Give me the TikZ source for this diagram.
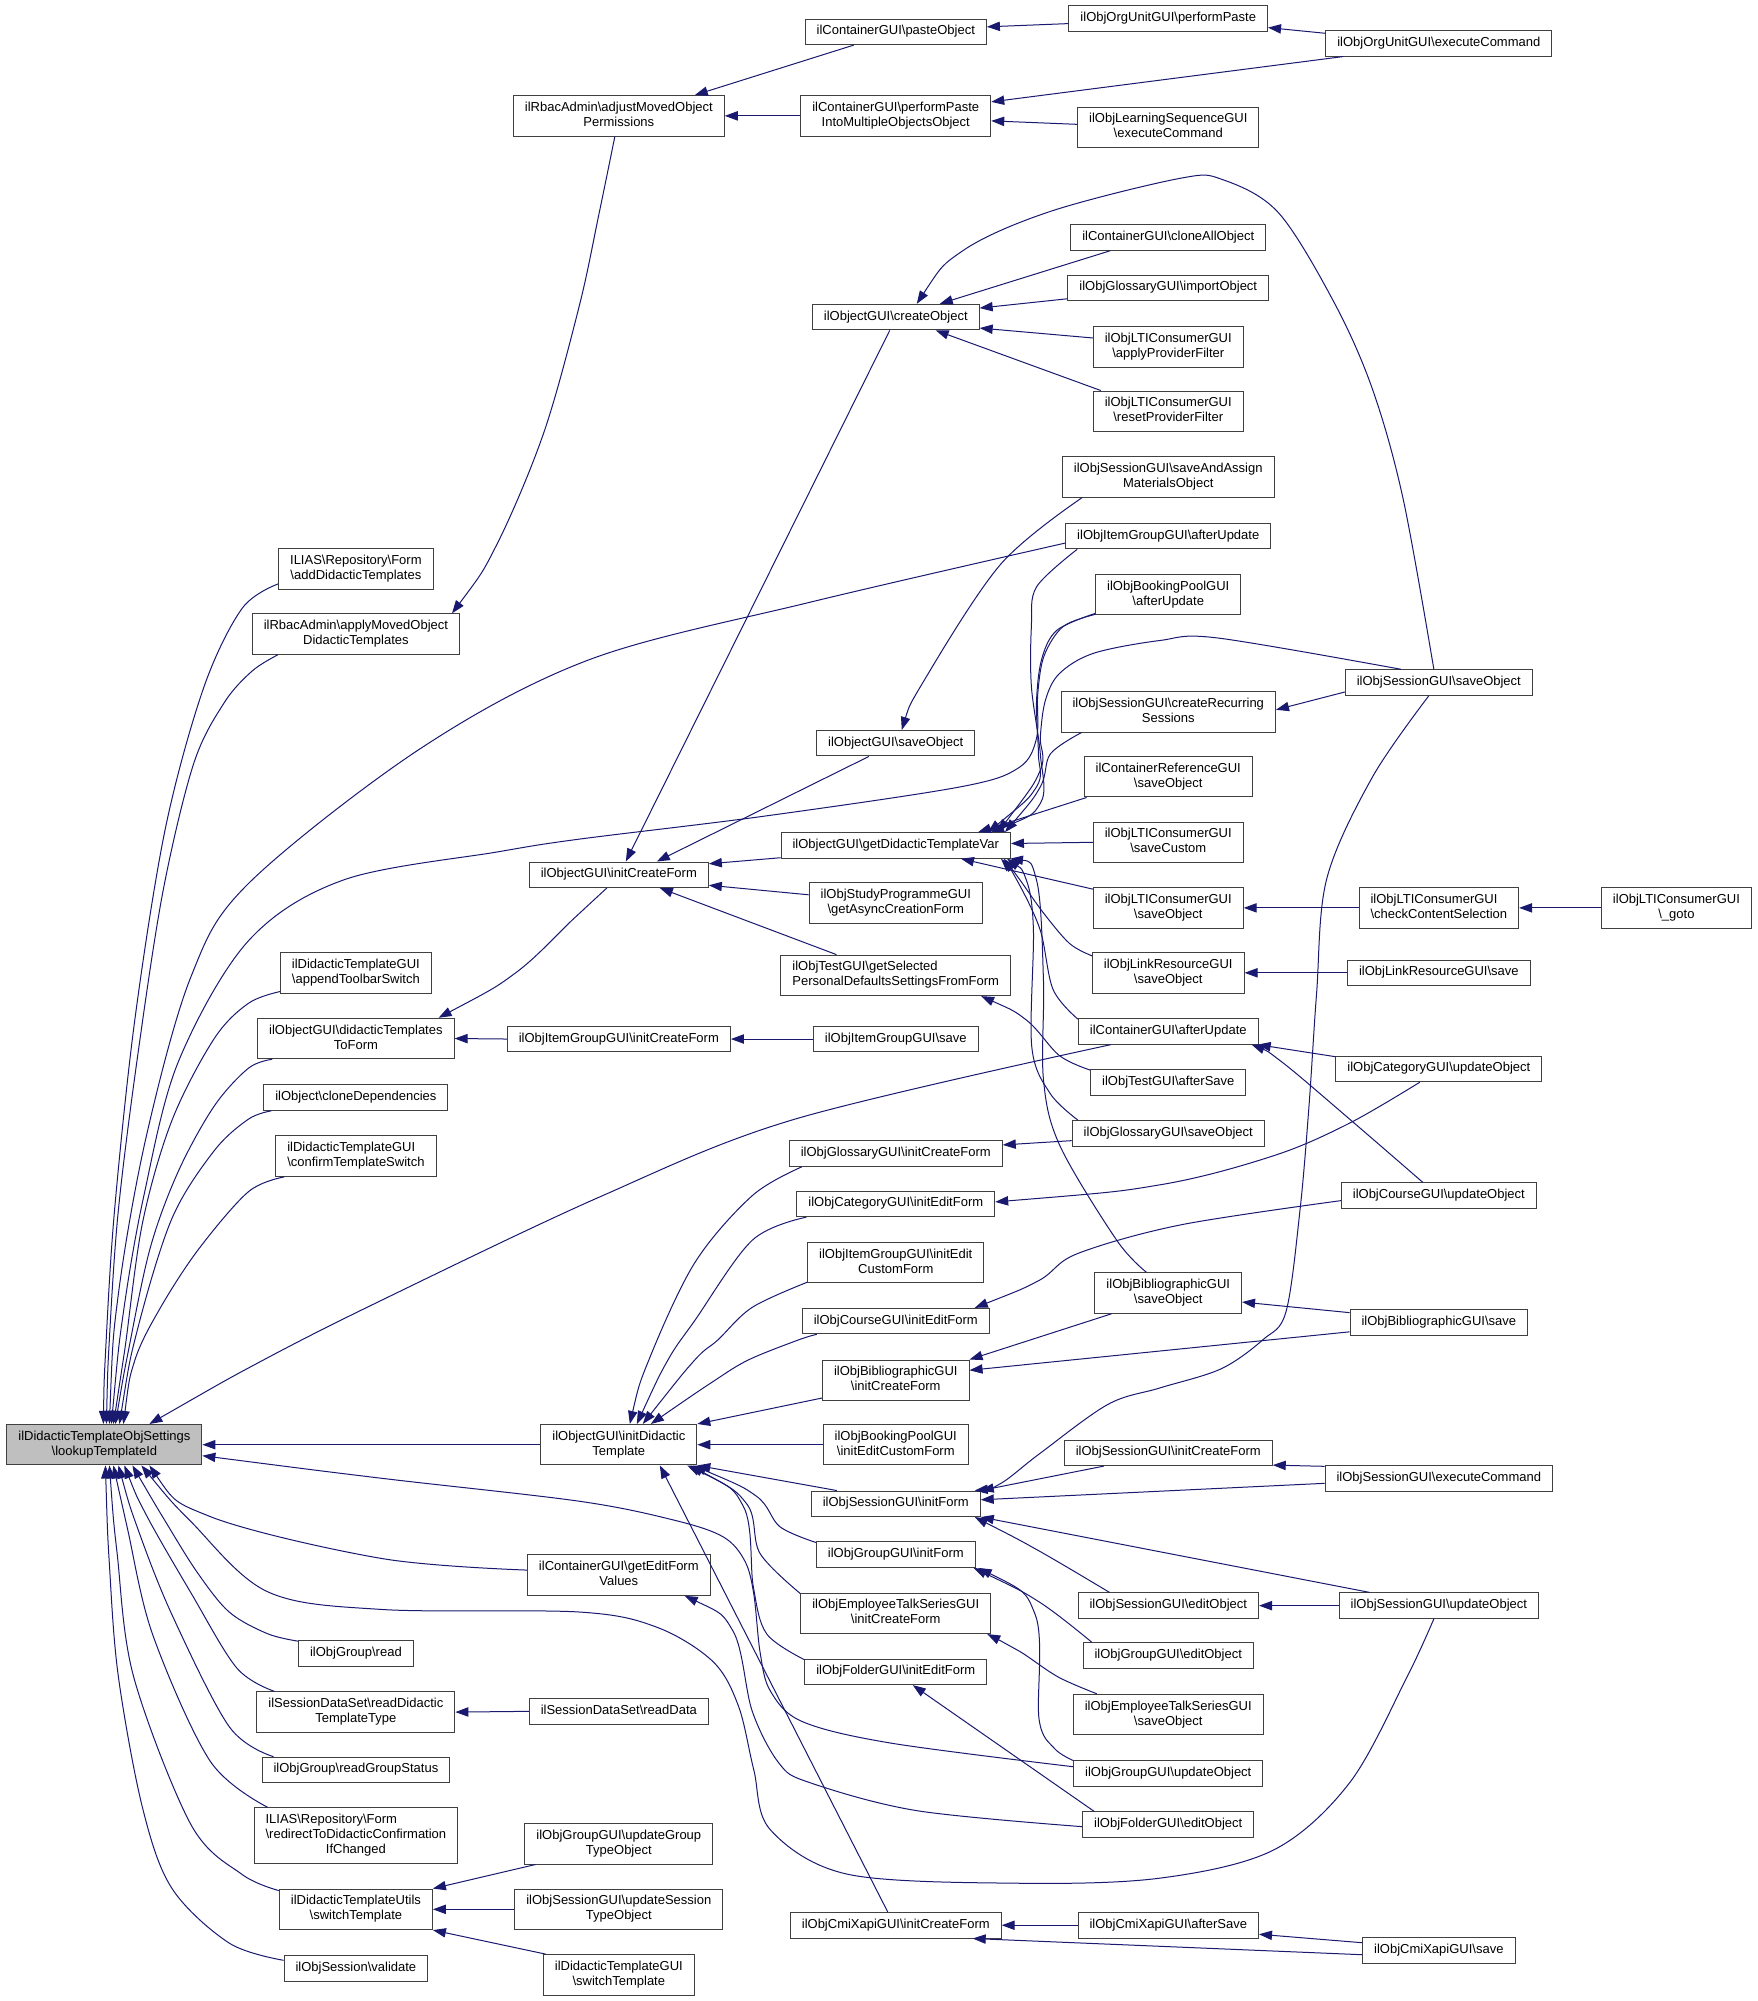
\documentclass[tikz,border=0pt]{standalone}
\usepackage{fontspec}
\setmainfont{Liberation Sans}
\usetikzlibrary{arrows.meta}
\definecolor{edgec}{RGB}{25,25,112}
\definecolor{nodeborder}{RGB}{64,64,64}
\definecolor{grayfill}{RGB}{191,191,191}
\newcommand{\BSL}{\textbackslash}
\newcommand{\Lone}[1]{\begin{tabular}{@{}c@{}}#1\end{tabular}}
\newcommand{\Ltwo}[2]{\begin{tabular}{@{}l@{}}#1\\\multicolumn{1}{@{}c@{}}{#2}\end{tabular}}
\newcommand{\Lthree}[3]{\begin{tabular}{@{}l@{}}#1\\#2\\\multicolumn{1}{@{}c@{}}{#3}\end{tabular}}
\begin{document}
\begin{tikzpicture}[x=1.2733pt,y=-1.2733pt,
  box/.style={draw=nodeborder, line width=1pt, fill=white, inner xsep=11.5pt, inner ysep=5.25pt, font=\fontsize{13}{15}\selectfont},
  e/.style={draw=edgec, line width=1pt, {Triangle[length=13pt,width=9.3pt]}-}]
\fill[white] (0,0) rectangle (1380,1571.5);
\useasboundingbox (0,0) rectangle (1380,1571.5);

% ---------- nodes ----------
\node[box, fill=grayfill] (L) at (82,1134.6) {\Ltwo{ilDidacticTemplateObjSettings}{\BSL lookupTemplateId}};

\node[box] (add) at (279.5,447) {\Ltwo{ILIAS\BSL Repository\BSL Form}{\BSL addDidacticTemplates}};
\node[box] (apply) at (279.5,498) {\Ltwo{ilRbacAdmin\BSL applyMovedObject}{DidacticTemplates}};
\node[box] (toolbar) at (279.5,764) {\Ltwo{ilDidacticTemplateGUI}{\BSL appendToolbarSwitch}};
\node[box] (dtf) at (279.5,815.6) {\Ltwo{ilObjectGUI\BSL didacticTemplates}{ToForm}};
\node[box] (clone) at (279.5,862) {\Lone{ilObject\BSL cloneDependencies}};
\node[box] (confirm) at (279.5,908) {\Ltwo{ilDidacticTemplateGUI}{\BSL confirmTemplateSwitch}};
\node[box] (gread) at (279.5,1298.5) {\Lone{ilObjGroup\BSL read}};
\node[box] (rdtt) at (279.5,1344.6) {\Ltwo{ilSessionDataSet\BSL readDidactic}{TemplateType}};
\node[box] (rgs) at (279.5,1390) {\Lone{ilObjGroup\BSL readGroupStatus}};
\node[box] (redir) at (279.5,1441.5) {\Lthree{ILIAS\BSL Repository\BSL Form}{\BSL redirectToDidacticConfirmation}{IfChanged}};
\node[box] (utsw) at (279.5,1499.5) {\Ltwo{ilDidacticTemplateUtils}{\BSL switchTemplate}};
\node[box] (valid) at (279.5,1546) {\Lone{ilObjSession\BSL validate}};

\node[box] (adjust) at (486,91) {\Ltwo{ilRbacAdmin\BSL adjustMovedObject}{Permissions}};
\node[box] (icf) at (486,687) {\Lone{ilObjectGUI\BSL initCreateForm}};
\node[box] (igicf) at (486,816) {\Lone{ilObjItemGroupGUI\BSL initCreateForm}};
\node[box] (id) at (486,1134.6) {\Ltwo{ilObjectGUI\BSL initDidactic}{Template}};
\node[box] (gefv) at (486,1237) {\Ltwo{ilContainerGUI\BSL getEditForm}{Values}};
\node[box] (rdata) at (486,1344) {\Lone{ilSessionDataSet\BSL readData}};
\node[box] (gtype) at (486,1448) {\Ltwo{ilObjGroupGUI\BSL updateGroup}{TypeObject}};
\node[box] (stype) at (486,1499.5) {\Ltwo{ilObjSessionGUI\BSL updateSession}{TypeObject}};
\node[box] (dtsw) at (486,1551) {\Ltwo{ilDidacticTemplateGUI}{\BSL switchTemplate}};

\node[box] (pobj) at (703.5,25) {\Lone{ilContainerGUI\BSL pasteObject}};
\node[box] (pmulti) at (703.5,91) {\Ltwo{ilContainerGUI\BSL performPaste}{IntoMultipleObjectsObject}};
\node[box] (create) at (703.5,249) {\Lone{ilObjectGUI\BSL createObject}};
\node[box] (osave) at (703.5,583.7) {\Lone{ilObjectGUI\BSL saveObject}};
\node[box] (gv) at (703.5,664) {\Lone{ilObjectGUI\BSL getDidacticTemplateVar}};
\node[box] (async) at (703.5,709) {\Ltwo{ilObjStudyProgrammeGUI}{\BSL getAsyncCreationForm}};
\node[box] (getsel) at (703.5,766) {\Ltwo{ilObjTestGUI\BSL getSelected}{PersonalDefaultsSettingsFromForm}};
\node[box] (igsave) at (703.5,816) {\Lone{ilObjItemGroupGUI\BSL save}};
\node[box] (gicf) at (703.5,906) {\Lone{ilObjGlossaryGUI\BSL initCreateForm}};
\node[box] (cief) at (703.5,945.5) {\Lone{ilObjCategoryGUI\BSL initEditForm}};
\node[box] (igiec) at (703.5,991.5) {\Ltwo{ilObjItemGroupGUI\BSL initEdit}{CustomForm}};
\node[box] (coief) at (703.5,1037.5) {\Lone{ilObjCourseGUI\BSL initEditForm}};
\node[box] (bicf) at (703.5,1084) {\Ltwo{ilObjBibliographicGUI}{\BSL initCreateForm}};
\node[box] (bpiec) at (703.5,1134.6) {\Ltwo{ilObjBookingPoolGUI}{\BSL initEditCustomForm}};
\node[box] (sif) at (703.5,1181) {\Lone{ilObjSessionGUI\BSL initForm}};
\node[box] (gif) at (703.5,1221) {\Lone{ilObjGroupGUI\BSL initForm}};
\node[box] (etcf) at (703.5,1267) {\Ltwo{ilObjEmployeeTalkSeriesGUI}{\BSL initCreateForm}};
\node[box] (fief) at (703.5,1313) {\Lone{ilObjFolderGUI\BSL initEditForm}};
\node[box] (cxicf) at (703.5,1512) {\Lone{ilObjCmiXapiGUI\BSL initCreateForm}};

\node[box] (opaste) at (917.5,14.6) {\Lone{ilObjOrgUnitGUI\BSL performPaste}};
\node[box] (lsexec) at (917.5,100) {\Ltwo{ilObjLearningSequenceGUI}{\BSL executeCommand}};
\node[box] (cloneall) at (917.5,186.5) {\Lone{ilContainerGUI\BSL cloneAllObject}};
\node[box] (import) at (917.5,226) {\Lone{ilObjGlossaryGUI\BSL importObject}};
\node[box] (applypf) at (917.5,272.5) {\Ltwo{ilObjLTIConsumerGUI}{\BSL applyProviderFilter}};
\node[box] (resetpf) at (917.5,323) {\Ltwo{ilObjLTIConsumerGUI}{\BSL resetProviderFilter}};
\node[box] (saa) at (917.5,374.6) {\Ltwo{ilObjSessionGUI\BSL saveAndAssign}{MaterialsObject}};
\node[box] (igau) at (917.5,421) {\Lone{ilObjItemGroupGUI\BSL afterUpdate}};
\node[box] (bpau) at (917.5,467) {\Ltwo{ilObjBookingPoolGUI}{\BSL afterUpdate}};
\node[box] (crs) at (917.5,559) {\Ltwo{ilObjSessionGUI\BSL createRecurring}{Sessions}};
\node[box] (cref) at (917.5,610) {\Ltwo{ilContainerReferenceGUI}{\BSL saveObject}};
\node[box] (ltic) at (917.5,661.5) {\Ltwo{ilObjLTIConsumerGUI}{\BSL saveCustom}};
\node[box] (ltis) at (917.5,713) {\Ltwo{ilObjLTIConsumerGUI}{\BSL saveObject}};
\node[box] (lrs) at (917.5,764) {\Ltwo{ilObjLinkResourceGUI}{\BSL saveObject}};
\node[box] (cau) at (917.5,810) {\Lone{ilContainerGUI\BSL afterUpdate}};
\node[box] (tas) at (917.5,850) {\Lone{ilObjTestGUI\BSL afterSave}};
\node[box] (gsave) at (917.5,890) {\Lone{ilObjGlossaryGUI\BSL saveObject}};
\node[box] (bso) at (917.5,1015.5) {\Ltwo{ilObjBibliographicGUI}{\BSL saveObject}};
\node[box] (sicf) at (917.5,1141) {\Lone{ilObjSessionGUI\BSL initCreateForm}};
\node[box] (sedit) at (917.5,1261) {\Lone{ilObjSessionGUI\BSL editObject}};
\node[box] (gedit) at (917.5,1300) {\Lone{ilObjGroupGUI\BSL editObject}};
\node[box] (etso) at (917.5,1346.5) {\Ltwo{ilObjEmployeeTalkSeriesGUI}{\BSL saveObject}};
\node[box] (gupd) at (917.5,1393) {\Lone{ilObjGroupGUI\BSL updateObject}};
\node[box] (fedit) at (917.5,1433) {\Lone{ilObjFolderGUI\BSL editObject}};
\node[box] (cxas) at (917.5,1512) {\Lone{ilObjCmiXapiGUI\BSL afterSave}};

\node[box] (oexec) at (1130,34) {\Lone{ilObjOrgUnitGUI\BSL executeCommand}};
\node[box] (ssave) at (1130,536) {\Lone{ilObjSessionGUI\BSL saveObject}};
\node[box] (check) at (1130,713) {\Ltwo{ilObjLTIConsumerGUI}{\BSL checkContentSelection}};
\node[box] (lrsave) at (1130,764) {\Lone{ilObjLinkResourceGUI\BSL save}};
\node[box] (catup) at (1130,839.5) {\Lone{ilObjCategoryGUI\BSL updateObject}};
\node[box] (crsup) at (1130,939) {\Lone{ilObjCourseGUI\BSL updateObject}};
\node[box] (bsave) at (1130,1038.5) {\Lone{ilObjBibliographicGUI\BSL save}};
\node[box] (sexec) at (1130,1161) {\Lone{ilObjSessionGUI\BSL executeCommand}};
\node[box] (supd) at (1130,1261) {\Lone{ilObjSessionGUI\BSL updateObject}};
\node[box] (cxsave) at (1130,1532) {\Lone{ilObjCmiXapiGUI\BSL save}};

\node[box] (goto) at (1316.6,713) {\Ltwo{ilObjLTIConsumerGUI}{\BSL\_goto}};

% ---------- edges into lookupTemplateId ----------
\draw[e] plot[smooth,tension=.55] coordinates {([xshift=-1pt]L.north) (83,1060) (90,950) (106,800) (130,650) (160,540) (190,478) ([yshift=6pt]add.south west)};
\draw[e] plot[smooth,tension=.55] coordinates {([xshift=2pt]L.north) (86,1050) (93,950) (108,830) (128,700) (152,600) (176,552) (198,527) ([xshift=26pt]apply.south west)};
\draw[e] plot[smooth,tension=.55] coordinates {([xshift=5pt]L.north) (93,1016) (115,892) (150,767) (195,694) (330,588) (463,518) (636,473) ([yshift=-7pt]igau.west)};
\draw[e] plot[smooth,tension=.55] coordinates {([xshift=7pt]L.north) (97,1030) (113,939) (140,834) (195,739) (270,691) (391,669) (455,659) (600,641) (754,618) (800,603) (814,580) (815,545) (820,515) (835,492) ([yshift=1pt]bpau.south west)};
\draw[e] plot[smooth,tension=.55] coordinates {([xshift=9pt]L.north) (98,1060) (112,960) (135,880) (168,816) (195,788) ([yshift=2pt]toolbar.south west)};
\draw[e] plot[smooth,tension=.55] coordinates {([xshift=11pt]L.north) (101,1060) (118,980) (140,920) (168,869) (195,839) ([xshift=15pt]dtf.south west)};
\draw[e] plot[smooth,tension=.55] coordinates {([xshift=15pt]L.north) (108,1044) (135,957) (168,904) (195,879) ([xshift=8pt]clone.south west)};
\draw[e] plot[smooth,tension=.55] coordinates {([xshift=19pt]L.north) (106,1068) (126,1027) (156,981) (195,936) ([xshift=9pt]confirm.south west)};
\draw[e] plot[smooth,tension=.55] coordinates {([xshift=45pt]L.north) (207,1068) (300,1021) (471,940) (624,879) ([xshift=33pt]cau.south west)};
\draw[e] (L.east) -- (id.west);
\draw[e] plot[smooth,tension=.55] coordinates {([yshift=-11pt]L.east) (300,1161) (455,1179) (530,1194) (568,1207) (585,1226) (592,1252) (597,1298) (605,1328) (630,1352) (700,1369) ([yshift=7pt]gupd.west)};
\draw[e] plot[smooth,tension=.55] coordinates {([xshift=45pt]L.south) (165,1191) (300,1224) ([yshift=5pt]gefv.west)};
\draw[e] plot[smooth,tension=.55] coordinates {([xshift=37pt]L.south) (150,1195) (210,1250) (300,1264) (455,1266) (516,1278) (560,1305) (580,1340) (592,1390) (605,1437) (666,1472) (800,1479) (911,1475) (1000,1453) (1060,1400) (1105,1317) ([xshift=-5pt]supd.south)};
\draw[e] plot[smooth,tension=.55] coordinates {([xshift=28pt]L.south) (130,1195) (155,1235) (180,1266) (210,1283) ([yshift=-1pt]gread.north west)};
\draw[e] plot[smooth,tension=.55] coordinates {([xshift=20pt]L.south) (115,1190) (150,1251) (186,1310) ([xshift=18pt]rdtt.north west)};
\draw[e] plot[smooth,tension=.55] coordinates {([xshift=14pt]L.south) (108,1200) (135,1268) (180,1356) ([xshift=12pt]rgs.north west)};
\draw[e] plot[smooth,tension=.55] coordinates {([xshift=9pt]L.south) (100,1200) (120,1284) (165,1383) ([xshift=14pt]redir.north west)};
\draw[e] plot[smooth,tension=.55] coordinates {([xshift=5pt]L.south) (92,1220) (105,1317) (150,1433) (190,1472) ([yshift=-2pt]utsw.north west)};
\draw[e] plot[smooth,tension=.55] coordinates {([xshift=1pt]L.south) (86,1230) (93,1317) (112,1420) (135,1483) (180,1526) ([yshift=-5pt]valid.north west)};

% ---------- top group ----------
\draw[e] plot[smooth,tension=.55] coordinates {([xshift=-8pt]apply.north east) (390,428) (427,340) (455,240) (470,170) ([xshift=-4pt]adjust.south)};
\draw[e] ([xshift=-30pt]adjust.north east) -- ([xshift=-42pt]pobj.south);
\draw[e] (adjust.east) -- (pmulti.west);
\draw[e] ([yshift=5pt]pobj.east) -- ([yshift=-5pt]opaste.west);
\draw[e] ([yshift=-9pt]opaste.east) -- ([yshift=10pt]oexec.west);
\draw[e] ([yshift=14pt]pmulti.east) -- ([xshift=18pt]oexec.south west);
\draw[e] ([yshift=-5pt]pmulti.east) -- ([yshift=3pt]lsexec.west);
\draw[e] plot[smooth,tension=.55] coordinates {([xshift=21pt]create.north) (756,197) (825,166) (927,140) (960,141) (1004,167) (1048,238) (1078,306) (1102,392) ([xshift=-5pt]ssave.north)};
\draw[e] ([xshift=44pt]create.north) -- ([xshift=40pt]cloneall.south west);
\draw[e] ([yshift=9pt]create.east) -- ([yshift=-11pt]import.west);
\draw[e] ([yshift=-11pt]create.east) -- ([yshift=9pt]applypf.west);
\draw[e] ([xshift=-44pt]create.south east) -- ([xshift=8pt]resetpf.north west);
\draw[e] ([xshift=7pt]icf.north) -- ([xshift=-6pt]create.south);
\draw[e] ([xshift=38pt]icf.north) -- ([xshift=-27pt]osave.south);
\draw[e] plot[smooth,tension=.55] coordinates {([xshift=6pt]osave.north) (726,534) (786,443) ([xshift=20pt]saa.south west)};
\draw[e] plot[smooth,tension=.55] coordinates {([xshift=-16pt]dtf.north east) (405,764) (450,722) ([xshift=-12pt]icf.south)};
\draw[e] (dtf.east) -- (igicf.west);
\draw[e] (igicf.east) -- (igsave.west);
\draw[e] ([yshift=11pt]icf.east) -- ([yshift=1pt]gv.south west);
\draw[e] ([yshift=-10.5pt]icf.east) -- ([yshift=8pt]async.west);
\draw[e] ([xshift=41pt]icf.south) -- ([xshift=56pt]getsel.north west);
\draw[e] plot[smooth,tension=.55] coordinates {([xshift=-30pt]getsel.south east) (806,801) (832,829) ([yshift=-1pt]tas.north west)};

% ---------- getDidacticTemplateVar ----------
\draw[e] ([yshift=2pt]gv.east) -- (ltic.west);
\draw[e] ([xshift=-50pt]gv.south east) -- ([yshift=-2pt]ltis.north west);
\draw[e] ([xshift=-33pt]gv.north east) -- ([xshift=3pt]cref.south west);
\draw[e] plot[smooth,tension=.55] coordinates {([xshift=-6pt]gv.north east) (817,618) (825,592) ([xshift=21pt]crs.south west)};
\draw[e] plot[smooth,tension=.55] coordinates {([xshift=-13pt]gv.north east) (817,605) (817,579) (821,550) (832,529) (859,513) (911,503) (956,501) ([xshift=56pt]ssave.north west)};
\draw[e] plot[smooth,tension=.55] coordinates {([xshift=-20pt]gv.north east) (817,631) (817,592) (810,539) (810,492) (814,461) ([xshift=12pt]igau.south west)};
\draw[e] plot[smooth,tension=.55] coordinates {([xshift=-23pt]gv.north east) (814,618) (815.5,592) (814,552) (818,518) (830,495) ([yshift=2pt]bpau.south west)};
\draw[e] plot[smooth,tension=.55] coordinates {([xshift=-7pt]gv.south east) (801,691) (819.5,717) (840,741) ([yshift=17pt]lrs.west)};
\draw[e] plot[smooth,tension=.55] coordinates {([xshift=-10pt]gv.south east) (798.5,691) (816.8,730) (827,777) ([yshift=-1pt]cau.north west)};
\draw[e] plot[smooth,tension=.55] coordinates {([xshift=-4pt]gv.south east) (806,691) (811.6,730) (810.3,822) (824.7,858.7) ([xshift=6pt]gsave.north west)};
\draw[e] plot[smooth,tension=.55] coordinates {([xshift=-1pt]gv.south east) (814,691) (819.5,770) (819.5,848) (832.5,900) (877,974) ([xshift=52pt]bso.north west)};
\draw[e] (ltis.east) -- (check.west);
\draw[e] (check.east) -- (goto.west);
\draw[e] (lrs.east) -- (lrsave.west);
\draw[e] ([yshift=2pt]crs.east) -- ([yshift=-9.5pt]ssave.west);
\draw[e] ([xshift=-1pt]cau.south east) -- ([yshift=-1pt]catup.north west);
\draw[e] plot[smooth,tension=.55] coordinates {([xshift=-7pt]cau.south east) (1006.7,834) (1060.5,879.4) ([xshift=-16pt]crsup.north)};
\draw[e] plot[smooth,tension=.55] coordinates {([yshift=2pt]cief.east) (911,930.5) (1000.7,907.5) (1060,882) ([xshift=-19pt]catup.south)};
\draw[e] plot[smooth,tension=.55] coordinates {([xshift=-15pt]coief.north east) (816,1005.6) (846,984.6) (927,962) ([yshift=-5pt]crsup.west)};
\draw[e] ([yshift=8.7pt]gicf.east) -- ([yshift=-7.4pt]gsave.west);
\draw[e] ([yshift=-9pt]bso.east) -- ([yshift=9.7pt]bsave.west);
\draw[e] (bicf.north east) -- ([xshift=17pt]bso.south west);
\draw[e] ([yshift=10pt]bicf.east) -- ([yshift=-9.5pt]bsave.west);

% ---------- initDidacticTemplate ----------
\draw[e] plot[smooth,tension=.55] coordinates {([xshift=11pt]id.north) (509.6,1068) (545.7,991.6) (590.8,939) ([xshift=13pt]gicf.south west)};
\draw[e] plot[smooth,tension=.55] coordinates {([xshift=18pt]id.north) (524.6,1068) (545.7,1037) (590.8,974) ([xshift=10pt]cief.south west)};
\draw[e] plot[smooth,tension=.55] coordinates {([xshift=24pt]id.north) (545.7,1068) (563.7,1052.4) (590.8,1026.7) ([yshift=1pt]igiec.south west)};
\draw[e] plot[smooth,tension=.55] coordinates {([xshift=32pt]id.north) (560,1085) (587.8,1068) (626.8,1052.4) ([xshift=15pt]coief.south west)};
\draw[e] (id.north east) -- ([yshift=3pt]bicf.south west);
\draw[e] (id.east) -- (bpiec.west);
\draw[e] (id.south east) -- ([xshift=26pt]sif.north west);
\draw[e] plot[smooth,tension=.55] coordinates {([xshift=-4pt]id.south east) (594,1175) (612.5,1199) ([yshift=-1pt]gif.north west)};
\draw[e] plot[smooth,tension=.55] coordinates {([xshift=-7pt]id.south east) (586.4,1181) (596.9,1220) ([yshift=-1pt]etcf.north west)};
\draw[e] plot[smooth,tension=.55] coordinates {([xshift=-10pt]id.south east) (583.8,1183) (591.6,1246) (602,1283) ([yshift=-1pt]fief.north west)};
\draw[e] ([xshift=41pt]id.south) -- ([xshift=-8pt]cxicf.north);

% ---------- session / group / folder ----------
\draw[e] plot[smooth,tension=.55] coordinates {([xshift=-6pt]sif.north east) (786,1165) (816,1142) (870,1103) (911,1090) (959,1075) (992,1052) (1010,1030) (1021,950) (1028,869) (1034,780) (1042,690) (1078,610) ([xshift=-10pt]ssave.south)};
\draw[e] (sif.north east) -- ([xshift=40pt]sicf.south west);
\draw[e] ([yshift=4pt]sif.east) -- ([yshift=-5pt]sexec.west);
\draw[e] ([yshift=1pt]sicf.south east) -- ([yshift=12pt]sexec.west);
\draw[e] (sif.south east) -- ([xshift=31pt]supd.north west);
\draw[e] plot[smooth,tension=.55] coordinates {([xshift=-6pt]sif.south east) (816,1218) ([xshift=32pt]sedit.north west)};
\draw[e] (sedit.east) -- (supd.west);
\draw[e] plot[smooth,tension=.55] coordinates {([xshift=-2pt]gif.south east) (816,1258) ([xshift=9pt]gedit.north west)};
\draw[e] plot[smooth,tension=.55] coordinates {([xshift=3pt]gif.south east) (813,1268) (816,1350) (828,1373) (gupd.north west)};
\draw[e] plot[smooth,tension=.55] coordinates {([xshift=-4pt]etcf.south east) (801,1297) (831,1317) ([xshift=24pt]etso.north west)};
\draw[e] ([xshift=17pt]fief.south) -- ([xshift=12pt]fedit.north west);
\draw[e] plot[smooth,tension=.55] coordinates {([xshift=-26pt]gefv.south east) (575.7,1281) (590.8,1344) (612,1385) (636,1400) (720,1422) ([yshift=-2pt]fedit.west)};
\draw[e] (cxicf.east) -- (cxas.west);
\draw[e] ([xshift=-29pt]cxicf.south east) -- ([yshift=-4pt]cxsave.west);
\draw[e] ([yshift=-9pt]cxas.east) -- ([yshift=8pt]cxsave.west);

% ---------- lower left ----------
\draw[e] (utsw.north east) -- ([xshift=11pt]gtype.south west);
\draw[e] (utsw.east) -- (stype.west);
\draw[e] (utsw.south east) -- ([xshift=3pt]dtsw.north west);
\draw[e] (rdtt.east) -- (rdata.west);
\end{tikzpicture}
\end{document}
